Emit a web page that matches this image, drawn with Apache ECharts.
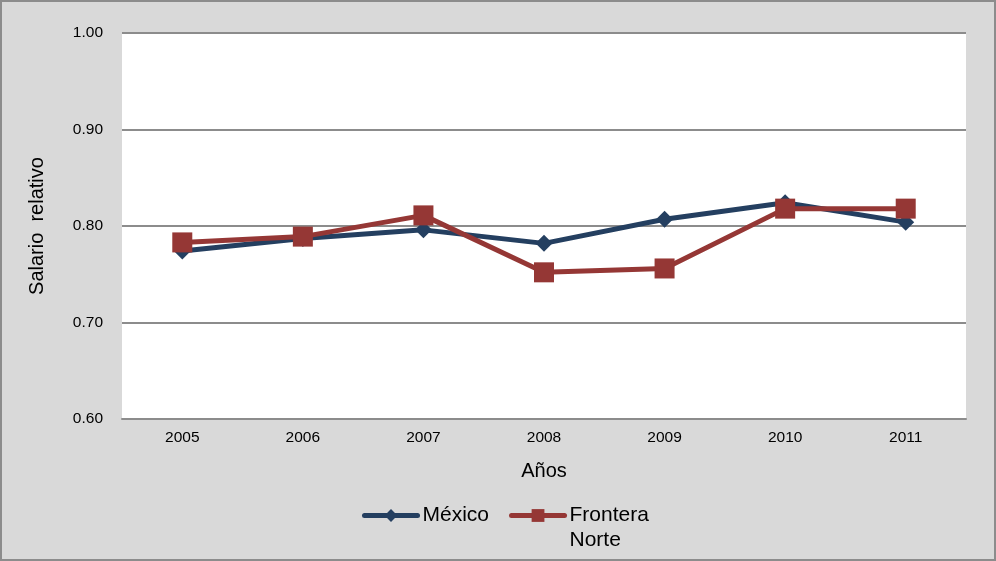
<!DOCTYPE html>
<html>
<head>
<meta charset="utf-8">
<script src="https://cdn.jsdelivr.net/npm/echarts@6/dist/echarts.min.js"></script>
<style>
  html, body { margin: 0; padding: 0; background: #d9d9d9; }
  #chart { width: 996px; height: 561px; }
</style>
</head>
<body>
<div id="chart"></div>
<script>
// Relative wage, 2005-2011
const years = ['2005', '2006', '2007', '2008', '2009', '2010', '2011'];
const mexico = [0.774, 0.787, 0.796, 0.782, 0.807, 0.824, 0.804];
const fronteraNorte = [0.783, 0.789, 0.811, 0.752, 0.756, 0.818, 0.818];
const seriesNames = ['México', 'Frontera Norte'];

const FONT = '"Liberation Sans", Arial, sans-serif';
const chart = echarts.init(document.getElementById('chart'));

chart.setOption({
  backgroundColor: '#d9d9d9',
  animation: false,
  textStyle: { fontFamily: FONT },
  graphic: [{
    type: 'rect',
    shape: { x: 1, y: 1, width: 994, height: 559 },
    style: { fill: 'none', stroke: '#8c8c8c', lineWidth: 2 },
    silent: true
  }],
  grid: {
    left: 122, right: 30, top: 33, bottom: 142,
    show: true, backgroundColor: '#ffffff', borderWidth: 0
  },
  legend: {
    left: 362, top: 478,
    padding: 0,
    itemWidth: 53, itemHeight: 16, itemGap: 20,
    lineStyle: { width: 5, cap: 'round' },
    textStyle: { fontSize: 21, color: '#000', fontFamily: FONT, lineHeight: 25 },
    // the wrapped name keeps its first line level with the icon
    formatter: function (n) { return n === 'Frontera Norte' ? ' \nFrontera\nNorte' : n; },
    data: seriesNames
  },
  xAxis: {
    type: 'category',
    data: years,
    boundaryGap: true,
    name: 'Años',
    nameLocation: 'middle',
    nameGap: 42,
    nameTextStyle: { fontSize: 20, color: '#000', fontFamily: FONT },
    axisLine: { show: true, lineStyle: { color: '#8c8c8c', width: 2 } },
    axisTick: { show: false },
    axisLabel: { fontSize: 15.5, color: '#000', margin: 11, fontFamily: FONT }
  },
  yAxis: {
    type: 'value',
    min: 0.6, max: 1.0, interval: 0.1,
    name: 'Salario  relativo',
    nameLocation: 'middle',
    nameGap: 75,
    nameRotate: 90,
    nameTextStyle: { fontSize: 20, color: '#000', fontFamily: FONT },
    axisLine: { show: false },
    axisTick: { show: false },
    axisLabel: {
      fontSize: 15.5, color: '#000', margin: 19, fontFamily: FONT,
      formatter: function (v) { return v.toFixed(2); }
    },
    splitLine: { lineStyle: { color: '#8c8c8c', width: 2 } }
  },
  series: [
    {
      name: seriesNames[0],
      type: 'line',
      data: mexico,
      symbol: 'diamond',
      symbolSize: 17,
      lineStyle: { color: '#243f60', width: 5 },
      itemStyle: { color: '#243f60' },
      z: 2
    },
    {
      name: seriesNames[1],
      type: 'line',
      data: fronteraNorte,
      symbol: 'rect',
      symbolSize: 20,
      lineStyle: { color: '#953735', width: 5 },
      itemStyle: { color: '#953735' },
      z: 3
    }
  ]
});
</script>
</body>
</html>
